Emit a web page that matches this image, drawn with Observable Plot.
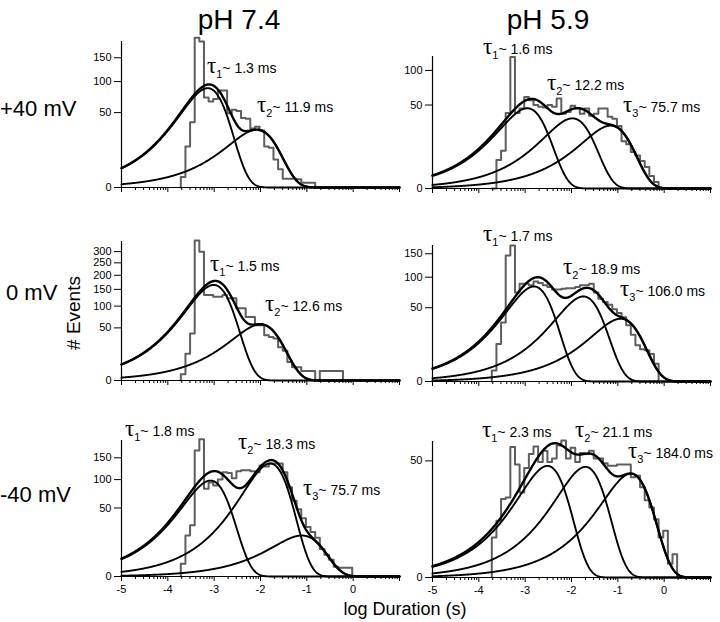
<!DOCTYPE html>
<html><head><meta charset="utf-8">
<script src="https://cdn.jsdelivr.net/npm/d3@7"></script>
<script src="https://cdn.jsdelivr.net/npm/@observablehq/plot@0.6"></script>
<style>
body{margin:0;background:#fff;}
#fig{position:relative;width:720px;height:622px;font-family:"Liberation Sans",Arial,Helvetica,sans-serif;overflow:hidden;background:#fff;}
.lbl{position:absolute;white-space:nowrap;color:#000;line-height:1;transform:translate(-50%,-50%);}
.row{position:absolute;white-space:nowrap;color:#000;line-height:1;transform:translate(0,-50%);}
svg{position:absolute;}
</style></head><body><div id="fig"></div>
<script>
// ---------- DATA ----------
const columnTitles = ["pH 7.4", "pH 5.9"];
const rowTitles = ["+40 mV", "0 mV", "-40 mV"];
const yTitle = "# Events";
const xTitle = "log Duration (s)";
const xTickLabels = [-5, -4, -3, -2, -1, 0];

// histogram bins: log10 duration, first left edge and width
const binStart = -3.72;
const binWidth = 0.1;

// counts per bin
const countsTL = [1, 15, 38, 200, 190, 72, 66, 70, 84, 84, 49, 54, 52, 43, 42, 31, 33, 29, 15, 14, 7, 3, 0.7, 0.7, 0.7, 0.6, 0.2, 0.2, 0.2];
const countsTR = [0, 5.8, 10.2, 41, 124, 41, 46, 60, 56, 50, 48, 47, 50, 48, 58, 40, 42, 49, 46, 40, 46, 38, 40, 46, 46, 37, 35, 28, 16, 14, 9.6, 7.8, 5.4, 3.3, 1.1, 0.3];
const countsML = [0.7, 13, 40, 354, 300, 132, 132, 127, 127, 132, 122, 122, 94, 94, 73, 73, 55, 55, 37, 34, 32, 20, 16, 6.1, 3.2, 3.2, 1.6, 1.6, 1.6, 0, 1.6, 1.6, 1.6, 1.6, 1.6];
const countsMR = [1.1, 13, 32, 146, 170, 73, 88, 88, 85, 92, 89, 85, 82, 78, 78, 79, 80, 80, 82, 85, 85, 88, 73, 63, 58, 54, 48, 43, 38, 29, 20, 12, 9.5, 9, 7, 2.9];
const countsBL = [1.7, 18, 28, 169, 201, 82, 94, 88, 100, 116, 114, 103, 118, 120, 120, 118, 116, 131, 129, 136, 136, 136, 116, 85, 61, 48, 36, 26, 21, 16, 8, 5, 3, 1, 0.8, 0.8, 0.8];
const countsBR = [5.9, 11.8, 22.6, 23.6, 62.7, 47, 26.5, 44, 56, 63, 49, 59, 49, 52, 64, 69, 52, 62, 49, 57, 56, 59, 52, 52, 48, 46, 46, 47, 47, 47, 37, 38, 30, 22, 18, 12.5, 5.9, 8, 0.7, 2, 0];

// fitted exponential components: peak position (log10 s) and peak height (events)
const peakLogTL = [-3.14, -2.08],          peakCountTL = [88, 29.8];
const peakLogTR = [-2.955, -1.98, -1.155], peakCountTR = [46.2, 35.3, 28.4];
const peakLogML = [-3.01, -2.0],           peakCountML = [165, 57];
const peakLogMR = [-2.81, -1.745, -0.94],  peakCountMR = [83, 66.5, 36.2];
const peakLogBL = [-3.08, -1.79, -1.11],   peakCountBL = [98, 136, 17.9];
const peakLogBR = [-2.52, -1.70, -0.72],   peakCountBR = [45.8, 45, 39.7];

// time constants (ms) written on each panel, and where the labels sit (log10 s, events)
const tauTL = ["1.3", "11.9"],          tauLogTL = [-3.144, -2.065],         tauCountTL = [115.9, 50.2];
const tauTR = ["1.6", "12.2", "75.7"],  tauLogTR = [-3.899, -2.518, -0.877], tauCountTR = [128.7, 68.9, 41.4];
const tauML = ["1.5", "12.6"],          tauLogML = [-3.079, -1.892],         tauCountML = [214.6, 86.0];
const tauMR = ["1.7", "18.9", "106.0"], tauLogMR = [-3.899, -2.172, -0.942], tauCountMR = [180.2, 105.2, 66.4];
const tauBL = ["1.8", "18.3", "75.7"],  tauLogBL = [-4.914, -2.475, -1.072], tauCountBL = [208.7, 171.8, 69.9];
const tauBR = ["2.3", "21.1", "184.0"], tauLogBR = [-3.921, -1.913, -0.770], tauCountBR = [72.1, 72.1, 52.1];

// y axis ticks and top of each y axis (events)
const yTicksTL = [0, 50, 100, 150],                 yMaxTL = 190;
const yTicksTR = [0, 50, 100],                      yMaxTR = 125;
const yTicksML = [0, 50, 100, 150, 200, 250, 300],  yMaxML = 349;
const yTicksMR = [0, 50, 100, 150],                 yMaxMR = 170;
const yTicksBL = [0, 50, 100, 150],                 yMaxBL = 197;
const yTicksBR = [0, 50],                           yMaxBR = 68;

// ---------- LAYOUT ----------
const PW = 278, ML = 45, MR = 8, MT = 30;
const colSvgLeft = [121 - ML, 432 - ML];
const geom = {
  TL: {axisTop: 41, baseline: 187}, TR: {axisTop: 56, baseline: 188},
  ML: {axisTop: 241, baseline: 380}, MR: {axisTop: 245, baseline: 381},
  BL: {axisTop: 440, baseline: 576}, BR: {axisTop: 441, baseline: 577}
};
const panels = [
  {id: "TL", col: 0, bottom: false, counts: countsTL, pl: peakLogTL, pc: peakCountTL, tau: tauTL, tl: tauLogTL, tc: tauCountTL, yt: yTicksTL, ym: yMaxTL},
  {id: "TR", col: 1, bottom: false, counts: countsTR, pl: peakLogTR, pc: peakCountTR, tau: tauTR, tl: tauLogTR, tc: tauCountTR, yt: yTicksTR, ym: yMaxTR},
  {id: "ML", col: 0, bottom: false, counts: countsML, pl: peakLogML, pc: peakCountML, tau: tauML, tl: tauLogML, tc: tauCountML, yt: yTicksML, ym: yMaxML},
  {id: "MR", col: 1, bottom: false, counts: countsMR, pl: peakLogMR, pc: peakCountMR, tau: tauMR, tl: tauLogMR, tc: tauCountMR, yt: yTicksMR, ym: yMaxMR},
  {id: "BL", col: 0, bottom: true, counts: countsBL, pl: peakLogBL, pc: peakCountBL, tau: tauBL, tl: tauLogBL, tc: tauCountBL, yt: yTicksBL, ym: yMaxBL},
  {id: "BR", col: 1, bottom: true, counts: countsBR, pl: peakLogBR, pc: peakCountBR, tau: tauBR, tl: tauLogBR, tc: tauCountBR, yt: yTicksBR, ym: yMaxBR}
];

const fig = document.getElementById("fig");
const FONT = "Liberation Sans, Arial, Helvetica, sans-serif";

const majorTicks = d3.range(-5, 2);
const minorTicks = [];
for (let d = -5; d < 1; d++) for (let k = 2; k <= 9; k++) minorTicks.push(d + Math.log10(k));
const xs = d3.range(-5, 1.0001, 0.01);

function comp(x, p, a) { const r = Math.pow(10, x - p); return a * r * Math.exp(1 - r); }

for (const P of panels) {
  const g = geom[P.id];
  const MB = P.bottom ? 24 : 10;
  const H = MT + (g.baseline - g.axisTop) + MB;
  // histogram outline
  const outline = [{x: binStart, y: 0}];
  P.counts.forEach((c, i) => {
    outline.push({x: binStart + i * binWidth, y: c});
    outline.push({x: binStart + (i + 1) * binWidth, y: c});
  });
  outline.push({x: binStart + P.counts.length * binWidth, y: 0});
  // fitted curves
  const comps = [];
  P.pl.forEach((p, j) => xs.forEach(x => comps.push({x, y: comp(x, p, P.pc[j]), j})));
  const sum = xs.map(x => ({x, y: d3.sum(P.pl, (p, j) => comp(x, p, P.pc[j]))}));

  const svg = Plot.plot({
    width: ML + PW + MR, height: H,
    marginLeft: ML, marginRight: MR, marginTop: MT, marginBottom: MB,
    style: {background: "transparent", overflow: "visible", fontFamily: FONT, fontSize: "11px", color: "#000"},
    x: {domain: [-5, 1]},
    y: {type: "sqrt", domain: [0, P.ym]},
    marks: [
      Plot.line(outline, {x: "x", y: "y", stroke: "#5e5e5e", strokeWidth: 2}),
      Plot.line(comps, {x: "x", y: "y", z: "j", stroke: "#000", strokeWidth: 1.9}),
      Plot.line(sum, {x: "x", y: "y", stroke: "#000", strokeWidth: 2.4}),
      Plot.ruleY([0], {stroke: "#000", strokeWidth: 1.2}),
      Plot.ruleX([-5], {y1: 0, y2: P.ym, stroke: "#000", strokeWidth: 1.2}),
      Plot.axisY({ticks: P.yt, tickSize: 7, tickPadding: 3, fontSize: 11, label: null}),
      Plot.axisX({ticks: majorTicks, tickSize: 5, tickPadding: 4, fontSize: 11, label: null,
                  tickFormat: d => (P.bottom && xTickLabels.includes(d)) ? String(d) : ""}),
      Plot.axisX({ticks: minorTicks, tickSize: 3, label: null, tickFormat: () => ""})
    ]
  });
  svg.style.left = colSvgLeft[P.col] + "px";
  svg.style.top = (g.axisTop - MT) + "px";
  fig.appendChild(svg);

  // tau annotations placed through the panel's scales
  const sx = svg.scale("x"), sy = svg.scale("y");
  const ann = d3.select(svg).append("g").attr("text-anchor", "start");
  P.tau.forEach((t, i) => {
    const txt = ann.append("text")
      .attr("text-anchor", "start")
      .attr("x", sx.apply(P.tl[i])).attr("y", sy.apply(P.tc[i]))
      .attr("font-family", FONT).attr("font-size", 14).attr("fill", "#000");
    txt.append("tspan").attr("font-family", "Liberation Serif, DejaVu Serif, serif").attr("font-size", 23).text("τ");
    txt.append("tspan").attr("font-size", 11).attr("dy", 5).text(String(i + 1));
    txt.append("tspan").attr("dy", -5).text("~ " + t + " ms");
  });
}

function addLabel(text, cls, x, y, size, extra) {
  const d = document.createElement("div");
  d.className = cls; d.textContent = text;
  d.style.left = x + "px"; d.style.top = y + "px"; d.style.fontSize = size + "px";
  if (extra) Object.assign(d.style, extra);
  fig.appendChild(d);
}
addLabel(columnTitles[0], "lbl", 239, 20, 28);
addLabel(columnTitles[1], "lbl", 548, 20, 28);
addLabel(rowTitles[0], "row", 0, 109, 22);
addLabel(rowTitles[1], "row", 6, 293, 22);
addLabel(rowTitles[2], "row", 0, 495, 22);
addLabel(yTitle, "lbl", 73, 313, 19, {transform: "translate(-50%,-50%) rotate(-90deg)"});
addLabel(xTitle, "lbl", 405, 609, 18);
</script>
</body></html>
